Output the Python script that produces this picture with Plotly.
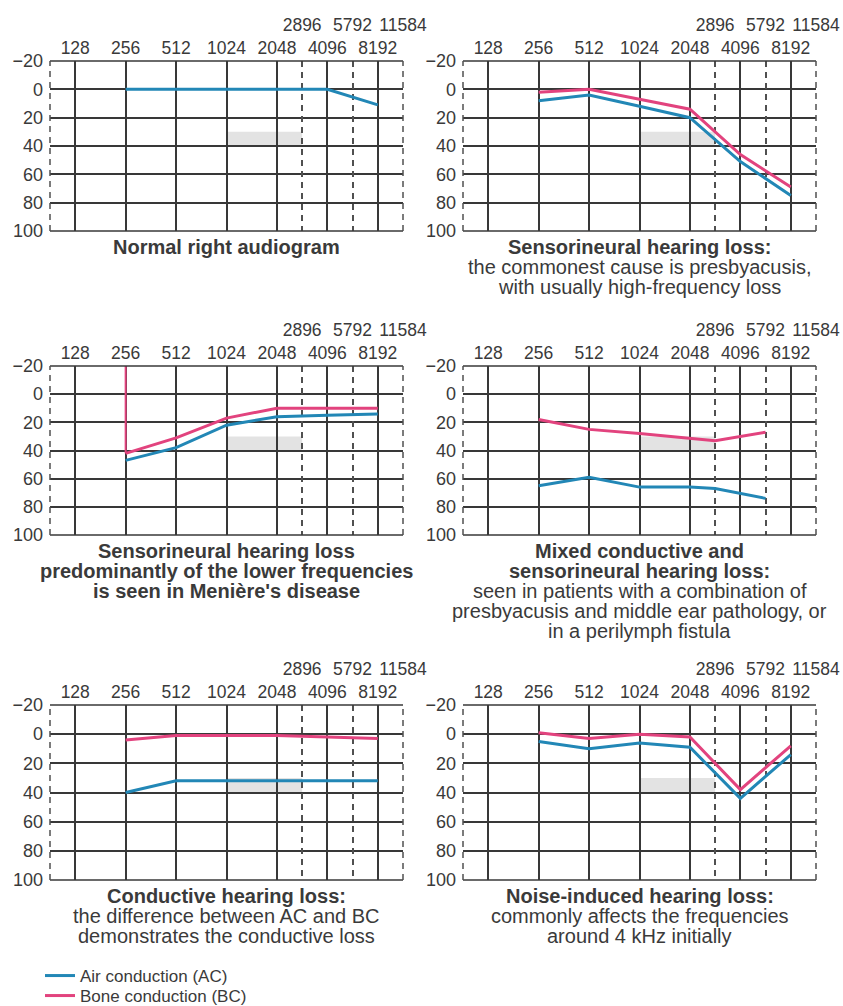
import math
import plotly.graph_objects as go

# ---------------- data ----------------
FREQ_MAIN = [128, 256, 512, 1024, 2048, 4096, 8192]
FREQ_HALF = [2896, 5792, 11584]
DB_TICKS = [-20, 0, 20, 40, 60, 80, 100]
X_RANGE_HZ = [90.5, 11584]
Y_RANGE = [100, -20]

P1_FREQ = [256, 512, 1024, 2048, 4096, 8192]
P1_AC = [0, 0, 0, 0, 0, 11]

P2_FREQ = [256, 512, 1024, 2048, 4096, 8192]
P2_AC = [8, 4, 12, 20, 51, 75]
P2_BC = [2, 0, 7, 14, 46, 69]

P3_FREQ = [256, 512, 1024, 2048, 4096, 8192]
P3_AC = [47, 38, 22, 16, 15, 14]
P3_BC = [42, 31, 17, 10, 10, 10]
P3_MARK_FREQ = [256, 256]
P3_MARK_DB = [-20, 42]

P4_FREQ = [256, 512, 1024, 2048, 2896, 5792]
P4_AC = [65, 59, 66, 66, 67, 74]
P4_BC = [18, 25, 28, 31, 33, 27]

P5_FREQ = [256, 512, 1024, 2048, 4096, 8192]
P5_AC = [40, 32, 32, 32, 32, 32]
P5_BC = [4, 1, 1, 1, 2, 3]

P6_FREQ = [256, 512, 1024, 2048, 4096, 8192]
P6_AC = [5, 10, 6, 9, 44, 14]
P6_BC = [-1, 3, 0, 2, 38, 8]

SHADE_FREQ = [1024, 2896]
SHADE_DB = [30, 40]

TITLES = [
    [("Normal right audiogram", True)],
    [("Sensorineural hearing loss:", True),
     ("the commonest cause is presbyacusis,", False),
     ("with usually high-frequency loss", False)],
    [("Sensorineural hearing loss", True),
     ("predominantly of the lower frequencies", True),
     ("is seen in Menière's disease", True)],
    [("Mixed conductive and", True),
     ("sensorineural hearing loss:", True),
     ("seen in patients with a combination of", False),
     ("presbyacusis and middle ear pathology, or", False),
     ("in a perilymph fistula", False)],
    [("Conductive hearing loss:", True),
     ("the difference between AC and BC", False),
     ("demonstrates the conductive loss", False)],
    [("Noise-induced hearing loss:", True),
     ("commonly affects the frequencies", False),
     ("around 4 kHz initially", False)],
]

PANELS = [
    (P1_FREQ, P1_AC, None),
    (P2_FREQ, P2_AC, P2_BC),
    (P3_FREQ, P3_AC, P3_BC),
    (P4_FREQ, P4_AC, P4_BC),
    (P5_FREQ, P5_AC, P5_BC),
    (P6_FREQ, P6_AC, P6_BC),
]

# ---------------- style / layout ----------------
W, H = 843, 1006
COLS = [(50, 403), (463, 816)]
ROWS = [(61, 231), (366, 535), (705, 880)]
BLUE = "#2287b6"
PINK = "#e2437e"
GRID = "#383838"
DASH = "#505050"
TXT = "#3a3a3a"
FONT = "Liberation Sans, Arial, Helvetica, sans-serif"


def ax_id(letter, n):
    return letter if n == 1 else f"{letter}{n}"


fig = go.Figure()
layout = dict(
    width=W, height=H,
    margin=dict(l=0, r=0, t=0, b=0, autoexpand=False),
    paper_bgcolor="white", plot_bgcolor="white",
    font=dict(family=FONT, color=TXT, size=17),
    showlegend=True,
    legend=dict(x=40 / W, y=1 - 976 / H, xanchor="left", yanchor="middle",
                font=dict(size=17, color=TXT), bgcolor="rgba(0,0,0,0)",
                itemwidth=30, borderwidth=0),
    legend2=dict(x=40 / W, y=1 - 996 / H, xanchor="left", yanchor="middle",
                 font=dict(size=17, color=TXT), bgcolor="rgba(0,0,0,0)",
                 itemwidth=30, borderwidth=0),
)
shapes = []
annotations = []
xr = [math.log10(X_RANGE_HZ[0]), math.log10(X_RANGE_HZ[1])]

for i, (freq, ac, bc) in enumerate(PANELS):
    k = i + 1
    r, c = divmod(i, 2)
    x0, x1 = COLS[c]
    y0, y1 = ROWS[r]
    xd = [x0 / W, x1 / W]
    yd = [1 - y1 / H, 1 - y0 / H]
    xa, ya, xo = ax_id("x", k), ax_id("y", k), ax_id("x", k + 6)
    layout[f"xaxis{k}"] = dict(
        type="log", range=xr, domain=xd, anchor=ya, side="top",
        tickvals=FREQ_MAIN, ticktext=[str(v) for v in FREQ_MAIN],
        showgrid=True, gridcolor=GRID, gridwidth=1.5, ticks="",
        showline=False, zeroline=False, tickfont=dict(size=17.5, color=TXT),
        ticklabelstandoff=3, fixedrange=True, automargin=False,
    )
    layout[f"xaxis{k + 6}"] = dict(
        type="log", range=xr, overlaying=xa, anchor=ya, side="top",
        tickvals=FREQ_HALF, ticktext=[str(v) for v in FREQ_HALF],
        showgrid=True, gridcolor=DASH, gridwidth=1.5, griddash="6px,5px",
        ticks="", showline=False, zeroline=False,
        tickfont=dict(size=17.5, color=TXT), ticklabelstandoff=26,
        fixedrange=True, automargin=False,
    )
    layout[f"yaxis{k}"] = dict(
        range=Y_RANGE, domain=yd, anchor=xa, tickvals=DB_TICKS,
        ticktext=["\u221220" if v < 0 else str(v) for v in DB_TICKS],
        showgrid=True, gridcolor=GRID, gridwidth=1.5, ticks="",
        showline=False, zeroline=False, tickfont=dict(size=18, color=TXT),
        ticklabelstandoff=6, fixedrange=True, automargin=False,
    )
    # frame
    dref = dict(xref=f"{xa} domain", yref=f"{ya} domain")
    ln = dict(color=GRID, width=1.5)
    shapes.append(dict(type="line", x0=0, x1=1, y0=1, y1=1, line=ln, **dref))
    shapes.append(dict(type="line", x0=0, x1=1, y0=0, y1=0, line=ln, **dref))
    shapes.append(dict(type="line", x0=0, x1=0, y0=0, y1=1,
                       line=dict(color=DASH, width=1.5, dash="6px,5px"), **dref))
    shapes.append(dict(type="line", x0=1, x1=1, y0=0, y1=1,
                       line=dict(color=DASH, width=1.5, dash="6px,5px"), **dref))
    # grey patch
    shapes.append(dict(type="rect", xref=xa, yref=ya,
                       x0=SHADE_FREQ[0], x1=SHADE_FREQ[1],
                       y0=SHADE_DB[0], y1=SHADE_DB[1],
                       fillcolor="rgba(200,200,200,0.5)", line=dict(width=0),
                       layer="below"))
    # invisible trace so the half-octave axis is drawn
    fig.add_trace(go.Scatter(
        x=FREQ_HALF, y=[None] * len(FREQ_HALF), mode="lines", xaxis=xo,
        yaxis=ya, showlegend=False, hoverinfo="skip"))
    # traces
    if bc is not None:
        fig.add_trace(go.Scatter(
            x=freq, y=bc, mode="lines", xaxis=xa, yaxis=ya,
            line=dict(color=PINK, width=3), name="Bone conduction (BC)",
            legend="legend2", legendgroup="bc", showlegend=(k == 2),
            hoverinfo="skip"))
    fig.add_trace(go.Scatter(
        x=freq, y=ac, mode="lines", xaxis=xa, yaxis=ya,
        line=dict(color=BLUE, width=3), name="Air conduction (AC)",
        legend="legend", legendgroup="ac", showlegend=(k == 1),
        hoverinfo="skip"))
    if k == 3:
        fig.add_trace(go.Scatter(
            x=P3_MARK_FREQ, y=P3_MARK_DB, mode="lines", xaxis=xa, yaxis=ya,
            line=dict(color=PINK, width=2), showlegend=False, hoverinfo="skip"))
    # titles
    cx = (x0 + x1) / 2 / W
    for j, (txt, bold) in enumerate(TITLES[i]):
        yc = y1 + 16 + 20 * j
        annotations.append(dict(
            x=cx, y=1 - yc / H, xref="paper", yref="paper",
            xanchor="center", yanchor="middle", showarrow=False,
            text=f"<b>{txt}</b>" if bold else txt,
            font=dict(size=20, color=TXT, family=FONT)))

layout["shapes"] = shapes
layout["annotations"] = annotations
fig.update_layout(**layout)
fig.write_html("out.html", post_script="document.body.style.margin='0';",
               config={"displayModeBar": False})
